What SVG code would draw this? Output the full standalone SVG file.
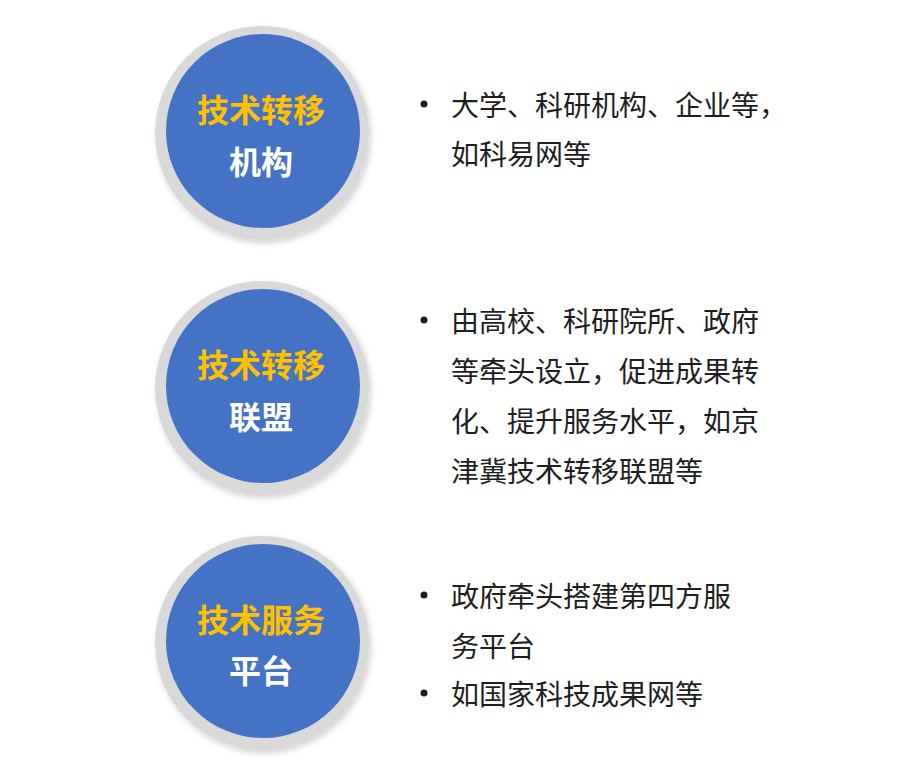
<svg xmlns="http://www.w3.org/2000/svg" width="900" height="773" viewBox="0 0 900 773">
  <style>
    .ring { fill: #D9D9D9; }
    .disc { fill: #4472C4; }
    .t1 { font-family: "Noto Sans CJK SC", "Microsoft YaHei", sans-serif; font-size: 32px; font-weight: bold; fill: #FFC000; text-anchor: middle; }
    .t2 { font-family: "Noto Sans CJK SC", "Microsoft YaHei", sans-serif; font-size: 32px; font-weight: bold; fill: #FFFFFF; text-anchor: middle; }
    .body { font-family: "Noto Sans CJK SC", "Microsoft YaHei", sans-serif; font-size: 28px; fill: #1E1E1E; }
    .dot { fill: #1E1E1E; }
  </style>
  <defs>
    <filter id="sh" x="-20%" y="-20%" width="140%" height="140%">
      <feDropShadow dx="2" dy="3" stdDeviation="3" flood-color="#000000" flood-opacity="0.18"/>
    </filter>
  </defs>
  <rect width="900" height="773" fill="#FFFFFF"/>

  <g id="node-1">
    <circle class="ring" cx="262" cy="133" r="107" filter="url(#sh)"/>
    <circle class="disc" cx="263" cy="131" r="97"/>
    <text class="t1" x="261" y="122">技术转移</text>
    <text class="t2" x="261" y="174">机构</text>
  </g>
  <g id="node-2">
    <circle class="ring" cx="262" cy="388" r="107" filter="url(#sh)"/>
    <circle class="disc" cx="263" cy="386" r="97"/>
    <text class="t1" x="261" y="377">技术转移</text>
    <text class="t2" x="261" y="429">联盟</text>
  </g>
  <g id="node-3">
    <circle class="ring" cx="262" cy="643" r="107" filter="url(#sh)"/>
    <circle class="disc" cx="263" cy="641" r="97"/>
    <text class="t1" x="261" y="632">技术服务</text>
    <text class="t2" x="261" y="683">平台</text>
  </g>

  <g id="text-1">
    <circle class="dot" cx="424" cy="104" r="3.5"/>
    <text class="body" x="451" y="116">大学、科研机构、企业等，</text>
    <text class="body" x="451" y="165">如科易网等</text>
  </g>
  <g id="text-2">
    <circle class="dot" cx="424" cy="320" r="3.5"/>
    <text class="body" x="451" y="332">由高校、科研院所、政府</text>
    <text class="body" x="451" y="382">等牵头设立，促进成果转</text>
    <text class="body" x="451" y="432">化、提升服务水平，如京</text>
    <text class="body" x="451" y="482">津冀技术转移联盟等</text>
  </g>
  <g id="text-3">
    <circle class="dot" cx="424" cy="595" r="3.5"/>
    <text class="body" x="451" y="607">政府牵头搭建第四方服</text>
    <text class="body" x="451" y="657">务平台</text>
    <circle class="dot" cx="424" cy="693" r="3.5"/>
    <text class="body" x="451" y="705">如国家科技成果网等</text>
  </g>
  <g id="connectors"></g>
</svg>
